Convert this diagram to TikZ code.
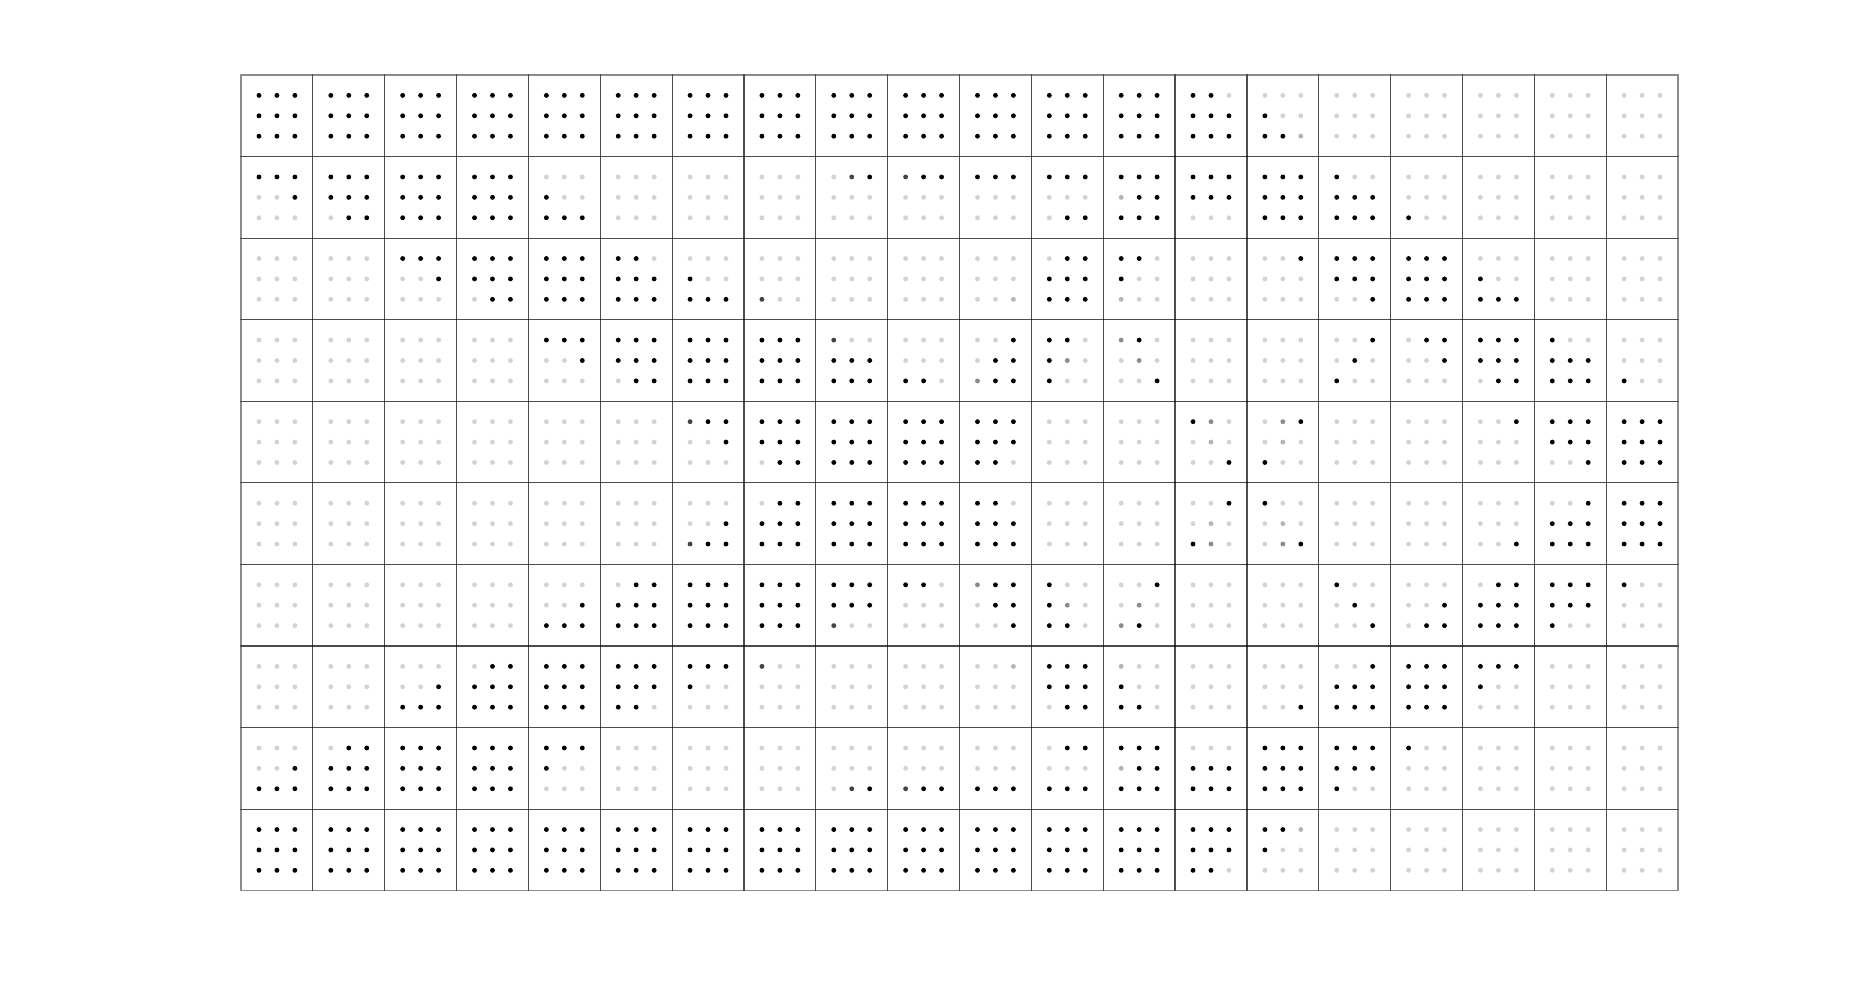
\documentclass[tikz,border=0pt]{standalone}
\definecolor{dot0}{HTML}{D3D3D3}
\definecolor{dot1}{HTML}{000000}
\definecolor{dot2}{HTML}{444444}
\definecolor{dot3}{HTML}{B4B4B4}
\definecolor{dot4}{HTML}{8C8C8C}
\newcommand\dotat[3]{\fill[dot#1] ([xshift=#2*8.98pt,yshift=#3*10.2pt]cell-\r-\c.center) circle[radius=1.22pt];}
\newcommand\dotcell[9]{\dotat{#1}{-1}{1}\dotat{#2}{0}{1}\dotat{#3}{1}{1}%
  \dotat{#4}{-1}{0}\dotat{#5}{0}{0}\dotat{#6}{1}{0}%
  \dotat{#7}{-1}{-1}\dotat{#8}{0}{-1}\dotat{#9}{1}{-1}}
\begin{document}
\begin{tikzpicture}[x=0.5pt, y=-0.5pt,
    cellbox/.style={draw=black, draw opacity=0.45, line width=0.6pt, inner sep=0pt, outer sep=0pt,
      minimum width=35.925pt, minimum height=40.785pt}]
  \useasboundingbox[fill=white] (0,0) rectangle (1855,1001);
  \foreach \rowcodes [count=\r] in {
    {111111111,111111111,111111111,111111111,111111111,111111111,111111111,111111111,111111111,111111111,111111111,111111111,111111111,110111111,000100113,000000000,000000000,000000000,000000000,000000000},
    {111001000,111111011,111111111,111111111,000100111,000000000,000000000,000000000,021000000,211000000,111000000,111000011,111311111,111111000,111111111,100111111,000000100,000000000,000000000,000000000},
    {000000000,000000000,111001000,111111011,111111111,110111111,000100111,000000200,000000000,000000000,000000003,011111111,110100300,000000000,001000000,111111001,111111111,000100111,000000000,000000000},
    {000000000,000000000,000000000,000000000,111001000,111111011,111111111,111111111,200111111,000000110,001011411,110140100,410040001,000000000,000000000,001010100,011001000,111111011,100111111,000000100},
    {000000000,000000000,000000000,000000000,000000000,000000000,211001000,111111011,111111111,111111111,111111110,000000000,000000000,140030001,041030100,000000000,000000000,001000000,111111001,111111111},
    {000000000,000000000,000000000,000000000,000000000,000000000,000001211,011111111,111111111,111111111,110111111,000000000,000000000,001030140,100030041,000000000,000000000,000000001,001111111,111111111},
    {000000000,000000000,000000000,000000000,000001111,011111111,111111111,111111111,111111200,110000000,411011001,100140110,001040410,000000000,000000000,100010001,000001011,011111111,111111100,100000000},
    {000000000,000000000,000001111,011111111,111111111,111111110,111100000,200000000,000000000,000000000,003000000,111111011,300100110,000000000,000000001,001111111,111111111,111100000,000000000,000000000},
    {000001111,011111111,111111111,111111111,111100000,000000000,000000000,000000000,000000021,000000211,000000111,011000111,111311111,000111111,111111111,111111100,100000000,000000000,000000000,000000000},
    {111111111,111111111,111111111,111111111,111111111,111111111,111111111,111111111,111111111,111111111,111111111,111111111,111111111,111111110,113100000,000000000,000000000,000000000,000000000,000000000}} {
    \foreach \code [count=\c] in \rowcodes {
      \pgfmathsetmacro\cx{241+(\c-0.5)*71.85}
      \pgfmathsetmacro\cy{75+(\r-0.5)*81.57}
      \node[cellbox] (cell-\r-\c) at (\cx,\cy) {};
      \expandafter\dotcell\code
    }
  }
\end{tikzpicture}
\end{document}
